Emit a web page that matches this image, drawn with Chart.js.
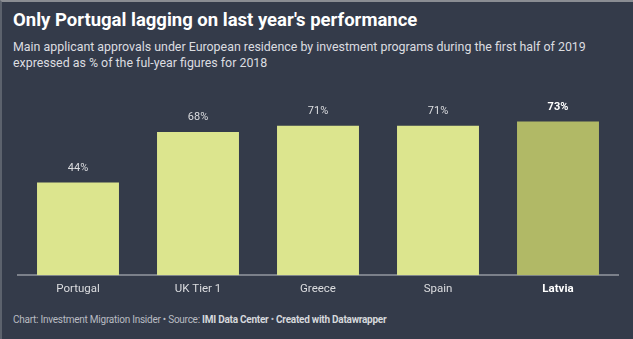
<!DOCTYPE html>
<html>
<head>
<meta charset="utf-8">
<script src="https://cdn.jsdelivr.net/npm/chart.js@4"></script>
<style>
  html, body { margin: 0; padding: 0; }
  body { width: 633px; height: 339px; background: #343b4a; font-family: Roboto, "Noto Sans", sans-serif; overflow: hidden; position: relative; }
  #frame { position: absolute; left: 0; top: 0; width: 631px; height: 337px; border-top: 2px solid #8a8d93; border-left: 2px solid #5c626d; }
  #title { position: absolute; left: 13px; top: 9px; font-size: 18.5px; font-weight: 700; color: #ffffff; white-space: nowrap; }
  #subtitle { position: absolute; left: 13px; top: 39px; font-size: 12.4px; line-height: 16px; color: #dcdde0; }
  #footer { position: absolute; left: 13px; top: 314px; font-size: 10px; letter-spacing: -0.25px; color: #b9bcc2; white-space: nowrap; }
  #footer b { color: #d6d8dc; }
  #wrap { position: absolute; left: 0; top: 73px; width: 633px; height: 230px; }
</style>
</head>
<body>
<div id="frame"></div>
<div id="title">Only Portugal lagging on last year's performance</div>
<div id="subtitle">Main applicant approvals under European residence by investment programs during the first half of 2019<br>expressed as % of the ful-year figures for 2018</div>
<div id="wrap"><canvas id="chart"></canvas></div>
<div id="footer">Chart: Investment Migration Insider • Source: <b>IMI Data Center</b> • <b>Created with Datawrapper</b></div>
<script>
const countries = ['Portugal', 'UK Tier 1', 'Greece', 'Spain', 'Latvia'];
const approvalShare = [44, 68, 71, 71, 73];
const highlighted = [false, false, false, false, true];

const barColors = highlighted.map(h => h ? '#b1b966' : '#dce58e');

// value labels above the bars
const valueLabels = {
    id: 'valueLabels',
    afterDatasetsDraw(chart) {
        const ctx = chart.ctx;
        const meta = chart.getDatasetMeta(0);
        ctx.save();
        ctx.textAlign = 'center';
        ctx.textBaseline = 'bottom';
        meta.data.forEach((bar, i) => {
            ctx.font = (highlighted[i] ? 'bold ' : '') + '11px Roboto, sans-serif';
            ctx.fillStyle = highlighted[i] ? '#ffffff' : '#dcdde0';
            ctx.fillText(approvalShare[i] + '%', bar.x, bar.y - 9);
        });
        ctx.restore();
    }
};

new Chart(document.getElementById('chart'), {
    type: 'bar',
    data: {
        labels: countries,
        datasets: [{
            data: approvalShare,
            backgroundColor: barColors,
            borderWidth: 0,
            barPercentage: 0.683,
            categoryPercentage: 1.0
        }]
    },
    options: {
        responsive: true,
        maintainAspectRatio: false,
        animation: false,
        layout: { padding: { left: 18, right: 15, top: 0, bottom: 0 } },
        scales: {
            x: {
                grid: { display: false, drawTicks: false },
                border: { display: true, color: '#7b808a', width: 2 },
                ticks: {
                    padding: 7,
                    color: ctx => highlighted[ctx.index] ? '#ffffff' : '#dcdde0',
                    font: ctx => ({ family: 'Roboto, sans-serif', size: 11.5, weight: highlighted[ctx.index] ? 'bold' : 'normal' })
                }
            },
            y: {
                display: false,
                min: 0,
                max: 96
            }
        },
        plugins: {
            legend: { display: false },
            tooltip: { enabled: false }
        }
    },
    plugins: [valueLabels]
});
</script>
</body>
</html>
